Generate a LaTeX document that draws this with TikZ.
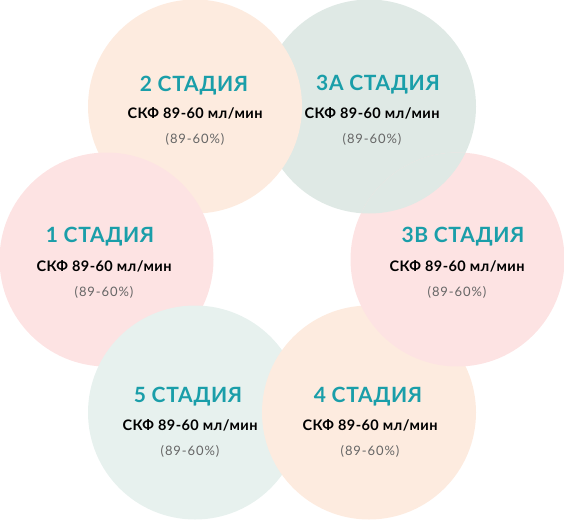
\documentclass[tikz,border=0pt]{standalone}
\usepackage{fontspec}
\setmainfont{Lato}
\usetikzlibrary{positioning}
\definecolor{stagepeach}{HTML}{FDEBDF}
\definecolor{stagepink}{HTML}{FDE3E3}
\definecolor{stagegrey}{HTML}{DFE9E5}
\definecolor{stagemint}{HTML}{E7F1EE}
\definecolor{stageteal}{HTML}{1A9EA9}
\definecolor{stagegray}{HTML}{666666}
\tikzset{
  stagedisc/.style={circle,minimum size=214pt,inner sep=0pt},
  stagetitle/.style={text=stageteal,inner sep=0pt,
    font=\fontsize{21}{21}\selectfont\bfseries\addfontfeature{LetterSpace=3}},
  stagerate/.style={text=black,inner sep=0pt,
    font=\fontsize{14.5}{15}\selectfont\bfseries\addfontfeature{LetterSpace=3}},
  stagepct/.style={text=stagegray,inner sep=0pt,
    font=\fontsize{13}{13}\selectfont\addfontfeature{LetterSpace=7}}
}
\begin{document}
\begin{tikzpicture}[x=1pt,y=-1pt]
    \useasboundingbox (0,0) rectangle (564,519);
    % each disc lies over the one after it in the ring
    \node[stagedisc,fill=stagegrey] (c3a) at (369,106.5) {};
    \node[stagedisc,fill=stagepeach] (c2) at (195,106.5) {};
    \node[stagedisc,fill=stagepink] (c1) at (106.5,259.5) {};
    \node[stagedisc,fill=stagemint] (c5) at (195,412.5) {};
    \node[stagedisc,fill=stagepeach] (c4) at (369,412.5) {};
    \node[stagedisc,fill=stagepink] (c3b) at (457.5,259.5) {};
    \begin{scope}
      \clip (c3b.center) circle (107pt);
      \fill[stagegrey] (c3a.center) circle (107pt);
    \end{scope}
    \foreach \n/\lab/\tx/\ty/\rx/\ry in {1/1 СТАДИЯ/100/237/104/266,
        2/2 СТАДИЯ/194/86/195/113, 3a/3А СТАДИЯ/378/85/372/113,
        3b/3В СТАДИЯ/463/237/457/266, 4/4 СТАДИЯ/368/397/370/425,
        5/5 СТАДИЯ/188/397/190/425}{
      \node[stagetitle] (t\n) at (\tx,\ty) {\lab};
      \node[stagerate] (r\n) at (\rx,\ry) {СКФ 89-60 мл/мин};
      \node[stagepct] (p\n) at (\rx,\ry+26) {(89-60\%)};
    }
\end{tikzpicture}
\end{document}
